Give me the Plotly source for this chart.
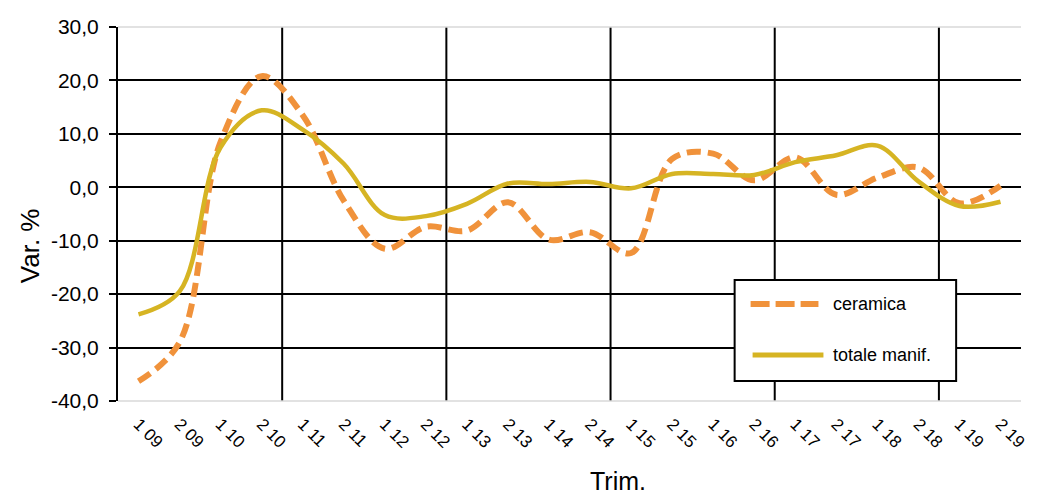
import plotly.graph_objects as go

# Half-year periods (semester, year)
periods = ["1 09", "2 09", "1 10", "2 10", "1 11", "2 11", "1 12", "2 12",
           "1 13", "2 13", "1 14", "2 14", "1 15", "2 15", "1 16", "2 16",
           "1 17", "2 17", "1 18", "2 18", "1 19", "2 19"]

# Percentage change
ceramica = [-36.3, -29.0, 8.5, 20.8, 13.5, -2.5, -11.5, -7.4, -8.1, -2.8, -9.8,
            -8.4, -12.3, 5.3, 6.3, 1.3, 5.6, -1.4, 1.8, 3.7, -3.0, 0.3]
totale_manif = [-23.8, -19.5, 7.5, 14.4, 10.8, 4.4, -5.2, -5.4, -3.1, 0.7, 0.6,
                1.0, -0.2, 2.5, 2.5, 2.3, 4.7, 6.0, 7.8, 1.1, -3.5, -2.7]

y_ticks = [-40, -30, -20, -10, 0, 10, 20, 30]
y_ticktext = [f"{v:.1f}".replace(".", ",") for v in y_ticks]

ORANGE = "#F0923B"
YELLOW = "#D6B423"
FONT = "Liberation Sans, Arial, sans-serif"

W, H = 1040, 496
ML, MR, MT, MB = 118, 17, 27, 95
PW, PH = W - ML - MR, H - MT - MB


def px(xp):
    return (xp - ML) / PW


def py(yp):
    return (H - MB - yp) / PH


idx = list(range(len(periods)))

fig = go.Figure()
fig.add_trace(go.Scatter(
    x=idx, y=ceramica, mode="lines", name="ceramica",
    line=dict(color=ORANGE, width=6, dash="14px,7px", shape="spline", smoothing=1.0),
    showlegend=False,
))
fig.add_trace(go.Scatter(
    x=idx, y=totale_manif, mode="lines", name="totale manif.",
    line=dict(color=YELLOW, width=4.5, shape="spline", smoothing=1.0),
    showlegend=False,
))

shapes = []
# vertical gridlines every two years (between categories)
for k in range(4, len(periods), 4):
    shapes.append(dict(type="line", xref="x", yref="paper", x0=k - 0.5, x1=k - 0.5,
                       y0=0, y1=1, line=dict(color="black", width=2), layer="below"))
# top/bottom light frame
shapes.append(dict(type="line", xref="paper", yref="paper", x0=0, x1=1, y0=1, y1=1,
                   line=dict(color="#D9D9D9", width=1.5), layer="above"))
shapes.append(dict(type="line", xref="paper", yref="paper", x0=0, x1=1, y0=0, y1=0,
                   line=dict(color="#D9D9D9", width=1.5), layer="above"))

# legend box
shapes.append(dict(type="rect", xref="paper", yref="paper",
                   x0=px(736), x1=px(958), y0=py(381), y1=py(280),
                   fillcolor="white", line=dict(color="black", width=2), layer="above"))
shapes.append(dict(type="line", xref="paper", yref="paper",
                   x0=px(752), x1=px(820), y0=py(304), y1=py(304),
                   line=dict(color=ORANGE, width=6, dash="19px,6px"), layer="above"))
shapes.append(dict(type="line", xref="paper", yref="paper",
                   x0=px(754), x1=px(825), y0=py(355), y1=py(355),
                   line=dict(color=YELLOW, width=5), layer="above"))

annotations = [
    dict(text="ceramica", xref="paper", yref="paper", x=px(833), y=py(304),
         xanchor="left", yanchor="middle", showarrow=False,
         font=dict(family=FONT, size=18, color="black")),
    dict(text="totale manif.", xref="paper", yref="paper", x=px(833), y=py(355),
         xanchor="left", yanchor="middle", showarrow=False,
         font=dict(family=FONT, size=18, color="black")),
    dict(text="Var. %", xref="paper", yref="paper", x=px(30), y=py(246),
         xanchor="center", yanchor="middle", textangle=-90, showarrow=False,
         font=dict(family=FONT, size=26, color="black")),
    dict(text="Trim.", xref="paper", yref="paper", x=px(619), y=py(481),
         xanchor="center", yanchor="middle", showarrow=False,
         font=dict(family=FONT, size=25, color="black")),
]

fig.update_layout(
    width=W, height=H,
    margin=dict(l=ML, r=MR, t=MT, b=MB, pad=0),
    paper_bgcolor="white", plot_bgcolor="white",
    shapes=shapes,
    annotations=annotations,
    showlegend=False,
    font=dict(family=FONT, color="black"),
    xaxis=dict(
        range=[-0.5, len(periods) - 0.5],
        tickmode="array", tickvals=idx, ticktext=periods,
        tickangle=45, tickfont=dict(size=17, family=FONT),
        showgrid=False, zeroline=False, showline=False, ticks="",
        ticklabelstandoff=9,
    ),
    yaxis=dict(
        range=[-40, 30], tickmode="array", tickvals=y_ticks, ticktext=y_ticktext,
        tickfont=dict(size=21, family=FONT),
        showgrid=True, gridcolor="black", gridwidth=2,
        zeroline=False, showline=True, linecolor="black", linewidth=2,
        ticks="outside", ticklen=7, tickcolor="black", tickwidth=2,
        ticklabelstandoff=6,
    ),
)

fig.write_html("out.html")
